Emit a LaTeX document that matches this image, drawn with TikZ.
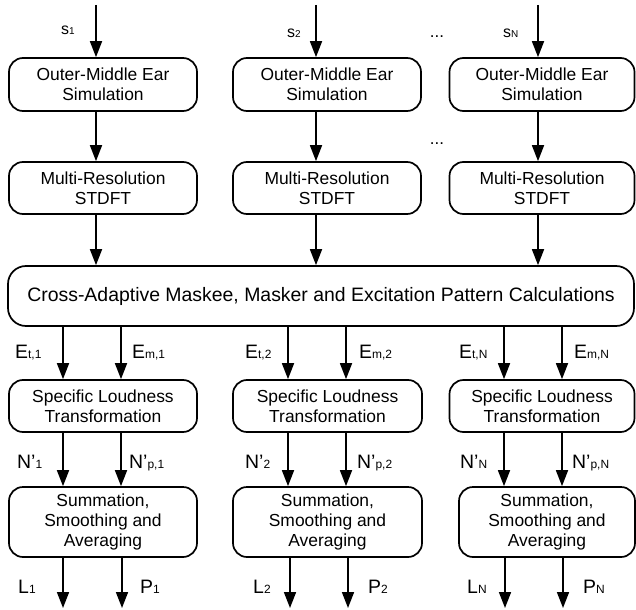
\documentclass[tikz,border=0pt]{standalone}
\usepackage{fontspec}
\setmainfont{Liberation Sans}
\usetikzlibrary{arrows.meta}
\newcommand\lsub[1]{{\fontsize{12}{12}\selectfont #1}}
\newcommand\ssub[1]{{\fontsize{10}{10}\selectfont #1}}
\begin{document}
\begin{tikzpicture}[x=1bp,y=-1bp,
 box/.style={draw, line width=1.7bp, rounded corners=14bp, align=center, inner sep=0pt, font=\fontsize{17.5}{20.5}\selectfont},
 arr/.style={line width=1.7bp, -{Triangle[width=12bp,length=16bp]}},
 lab/.style={anchor=base west, inner sep=0pt, font=\fontsize{19.5}{19.5}\selectfont},
 slab/.style={anchor=base west, inner sep=0pt, font=\fontsize{16}{16}\selectfont},
 dots/.style={anchor=base, inner sep=0pt, font=\fontsize{17}{17}\selectfont}]
\useasboundingbox (0,0) rectangle (636,610);

% boxes
\node[box, minimum width=188bp, minimum height=53bp] (O1) at (103,84.5) {Outer-Middle Ear\\Simulation};
\node[box, minimum width=188bp, minimum height=53bp] (O2) at (327,84.5) {Outer-Middle Ear\\Simulation};
\node[box, minimum width=185bp, minimum height=53bp] (O3) at (542,84.5) {Outer-Middle Ear\\Simulation};
\node[box, minimum width=188bp, minimum height=52bp] (M1) at (103,188) {Multi-Resolution\\STDFT};
\node[box, minimum width=188bp, minimum height=52bp] (M2) at (327,188) {Multi-Resolution\\STDFT};
\node[box, minimum width=185bp, minimum height=52bp] (M3) at (542,188) {Multi-Resolution\\STDFT};
\node[box, rounded corners=18bp, minimum width=626bp, minimum height=60bp, font=\fontsize{19.5}{22}\selectfont] (B) at (321,296) {Cross-Adaptive Maskee, Masker and Excitation Pattern Calculations};
\node[box, minimum width=188bp, minimum height=52bp] (S1) at (103,406) {Specific Loudness\\Transformation};
\node[box, minimum width=189bp, minimum height=52bp] (S2) at (327.5,406) {Specific Loudness\\Transformation};
\node[box, minimum width=185bp, minimum height=52bp] (S3) at (542,406) {Specific Loudness\\Transformation};
\node[box, minimum width=188bp, minimum height=70bp] (U1) at (103,522) {Summation,\\Smoothing and\\Averaging};
\node[box, minimum width=189bp, minimum height=70bp] (U2) at (327.5,522) {Summation,\\Smoothing and\\Averaging};
\node[box, minimum width=176bp, minimum height=70bp] (U3) at (547,522) {Summation,\\Smoothing and\\Averaging};

% input arrows
\coordinate (in1) at (96,5);
\coordinate (in2) at (316,5);
\coordinate (in3) at (538,5);
\draw[arr] (in1) -- (O1.north -| in1);
\draw[arr] (in2) -- (O2.north -| in2);
\draw[arr] (in3) -- (O3.north -| in3);
\draw[arr] (O1.south -| in1) -- (M1.north -| in1);
\draw[arr] (O2.south -| in2) -- (M2.north -| in2);
\draw[arr] (O3.south -| in3) -- (M3.north -| in3);
\draw[arr] (M1.south -| in1) -- (B.north -| in1);
\draw[arr] (M2.south -| in2) -- (B.north -| in2);
\draw[arr] (M3.south -| in3) -- (B.north -| in3);

% lower arrow columns
\coordinate (a1) at (63,0);
\coordinate (b1) at (121,0);
\coordinate (a2) at (288,0);
\coordinate (b2) at (346,0);
\coordinate (a3) at (504,0);
\coordinate (b3) at (562,0);
\draw[arr] (B.south -| a1) -- (S1.north -| a1);
\draw[arr] (B.south -| b1) -- (S1.north -| b1);
\draw[arr] (B.south -| a2) -- (S2.north -| a2);
\draw[arr] (B.south -| b2) -- (S2.north -| b2);
\draw[arr] (B.south -| a3) -- (S3.north -| a3);
\draw[arr] (B.south -| b3) -- (S3.north -| b3);
\draw[arr] (S1.south -| a1) -- (U1.north -| a1);
\draw[arr] (S1.south -| b1) -- (U1.north -| b1);
\draw[arr] (S2.south -| a2) -- (U2.north -| a2);
\draw[arr] (S2.south -| b2) -- (U2.north -| b2);
\draw[arr] (S3.south -| a3) -- (U3.north -| a3);
\draw[arr] (S3.south -| b3) -- (U3.north -| b3);
\coordinate (o1) at (63,608);
\coordinate (p1) at (122,608);
\coordinate (o2) at (290,608);
\coordinate (p2) at (348,608);
\coordinate (o3) at (505,608);
\coordinate (p3) at (563,608);
\draw[arr] (U1.south -| o1) -- (o1);
\draw[arr] (U1.south -| p1) -- (p1);
\draw[arr] (U2.south -| o2) -- (o2);
\draw[arr] (U2.south -| p2) -- (p2);
\draw[arr] (U3.south -| o3) -- (o3);
\draw[arr] (U3.south -| p3) -- (p3);

% labels
\node[slab] (s1) at (61,35) {s\ssub{1}};
\node[slab] (s2) at (287,38) {s\ssub{2}};
\node[slab] (sN) at (503,38) {s\ssub{N}};
\node[dots] (d1) at (437,38) {...};
\node[dots] (d2) at (437,145) {...};

\node[lab] (et1) at (15,358) {E\lsub{t,1}};
\node[lab] (em1) at (132,358) {E\lsub{m,1}};
\node[lab] (et2) at (245,358) {E\lsub{t,2}};
\node[lab] (em2) at (359,358) {E\lsub{m,2}};
\node[lab] (etN) at (459,358) {E\lsub{t,N}};
\node[lab] (emN) at (574,358) {E\lsub{m,N}};

\node[lab] (n1) at (17,468) {N’\lsub{1}};
\node[lab] (np1) at (129,468) {N’\lsub{p,1}};
\node[lab] (n2) at (245,468) {N’\lsub{2}};
\node[lab] (np2) at (357,468) {N’\lsub{p,2}};
\node[lab] (nN) at (460,468) {N’\lsub{N}};
\node[lab] (npN) at (572,468) {N’\lsub{p,N}};

\node[lab] (l1) at (18,593) {L\lsub{1}};
\node[lab] (pp1) at (140,593) {P\lsub{1}};
\node[lab] (l2) at (253,593) {L\lsub{2}};
\node[lab] (pp2) at (368,593) {P\lsub{2}};
\node[lab] (lN) at (467,593) {L\lsub{N}};
\node[lab] (ppN) at (583,593) {P\lsub{N}};
\end{tikzpicture}
\end{document}
